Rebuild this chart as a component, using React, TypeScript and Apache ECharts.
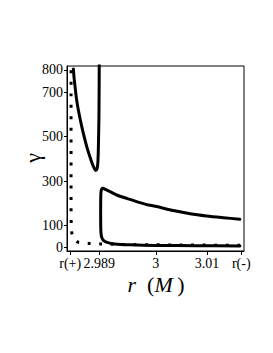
import React, { useEffect, useRef } from "react";
import * as echarts from "echarts";

const xTickValues = [2.98333, 2.989, 3, 3.01, 3.01667];
const xTickLabels = ["r(+)", "2.989", "3", "3.01", "r(-)"];
const yTickValues = [0, 100, 300, 500, 700, 800];

const upperBranch: [number, number][] = [
  [2.98394, 805], [2.9841, 760], [2.98427, 725], [2.98455, 670], [2.98491, 620],
  [2.98558, 545], [2.98655, 455], [2.98752, 385], [2.988, 358], [2.9883, 348],
  [2.98855, 355], [2.98872, 385], [2.98882, 455], [2.98893, 600], [2.98899, 850],
];

const lowerBranch: [number, number][] = [
  [3.0164, 8], [3.008, 9], [3.0, 10], [2.995, 13], [2.992, 17], [2.9905, 24],
  [2.9898, 33], [2.9895, 45], [2.98935, 60], [2.98928, 90], [2.98926, 160],
  [2.98928, 230], [2.98935, 255], [2.9895, 265], [2.9897, 267], [2.9902, 262],
  [2.9911, 252], [2.9925, 236], [2.99435, 222], [2.9969, 203], [2.99856, 192],
  [3.0002, 185], [3.0034, 167], [3.0067, 153], [3.0099, 143], [3.0132, 135],
  [3.0164, 128],
];

const dottedCurve: [number, number][] = [
  [2.98349, 850], [2.98349, 200], [2.98352, 110], [2.98362, 69], [2.9839, 45],
  [2.98459, 27], [2.986, 21], [2.98705, 19], [2.98914, 17], [2.995, 14],
  [3.005, 12], [3.0166, 11],
];

const FONT = "Liberation Serif";

export default function App() {
  const ref = useRef<HTMLDivElement>(null);
  useEffect(() => {
    if (!ref.current) return;
    const chart = echarts.init(ref.current, undefined, { renderer: "svg" });
    const solid = { color: "#000", width: 3, cap: "round" as const, join: "round" as const };
    chart.setOption({
      animation: false,
      textStyle: { fontFamily: FONT },
      grid: {
        left: 67, right: 29, top: 66, bottom: 102,
        show: true, borderColor: "#000", borderWidth: 1,
      },
      xAxis: {
        type: "value",
        min: 2.9827,
        max: 3.0172,
        splitLine: { show: false },
        axisLine: { show: true, onZero: false, lineStyle: { color: "#000", width: 1 } },
        axisTick: { show: true, length: 4, customValues: xTickValues, lineStyle: { color: "#000" } },
        axisLabel: {
          customValues: xTickValues,
          margin: 5,
          color: "#000",
          fontFamily: FONT,
          fontSize: 14,
          formatter: (v: number) => {
            let best = 0;
            xTickValues.forEach((t, i) => {
              if (Math.abs(t - v) < Math.abs(xTickValues[best] - v)) best = i;
            });
            return xTickLabels[best];
          },
        },
      },
      yAxis: {
        type: "value",
        min: -15,
        max: 818,
        splitLine: { show: false },
        axisLine: { show: true, onZero: false, lineStyle: { color: "#000", width: 1 } },
        axisTick: { show: true, length: 3, customValues: yTickValues, lineStyle: { color: "#000" } },
        axisLabel: {
          customValues: yTickValues,
          margin: 4,
          color: "#000",
          fontFamily: FONT,
          fontSize: 14,
        },
      },
      graphic: [
        {
          type: "text",
          x: 32,
          y: 158,
          rotation: Math.PI / 2,
          style: {
            text: "γ",
            fontFamily: FONT,
            fontSize: 22,
            fill: "#000",
            align: "center",
            verticalAlign: "middle",
          },
        },
        {
          type: "text",
          x: 156,
          y: 284,
          style: {
            text: "{i|r}  ({i|M}\u2009)",
            fontFamily: FONT,
            fontSize: 22,
            fill: "#000",
            align: "center",
            verticalAlign: "middle",
            rich: {
              i: { fontFamily: FONT, fontSize: 22, fontStyle: "italic", fill: "#000" },
            },
          },
        },
      ],
      series: [
        {
          type: "line",
          data: dottedCurve,
          symbol: "none",
          smooth: 0.3,
          lineStyle: { color: "#000", width: 3, type: [3, 8.5], cap: "butt" },
        },
        {
          type: "line",
          data: upperBranch,
          symbol: "none",
          smooth: 0.3,
          lineStyle: solid,
        },
        {
          type: "line",
          data: lowerBranch,
          symbol: "none",
          smooth: 0.3,
          lineStyle: solid,
        },
      ],
    });
    return () => chart.dispose();
  }, []);
  return <div ref={ref} style={{ width: 273, height: 353, marginLeft: -8, marginTop: -8 }} />;
}
